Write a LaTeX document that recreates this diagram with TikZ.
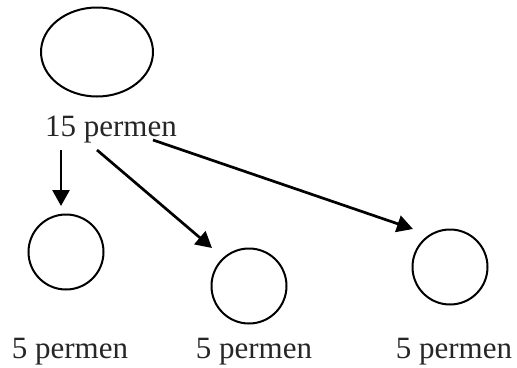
\documentclass[tikz,border=0pt]{standalone}
\usepackage{fontspec}
\setmainfont{Liberation Serif}
\usetikzlibrary{shapes.geometric,arrows.meta}
\begin{document}
\begin{tikzpicture}[x=1pt,y=-1pt,
  shapeline/.style={draw=black,line width=2pt,inner sep=0pt},
  bigcircle/.style={shapeline,circle,minimum size=75pt},
  lbl/.style={anchor=base,inner sep=0pt,font=\fontsize{31}{36}\selectfont,text=black!85},
  arr/.style={line width=2.7pt,-{Triangle[length=16pt,width=17pt]}}]
\useasboundingbox (0,0) rectangle (517,367);
\node[shapeline,ellipse,minimum width=112pt,minimum height=89pt] (top) at (97,52) {};
\node[lbl] (toplbl) at (111,136) {15 permen};
\node[bigcircle] (c1) at (66,252) {};
\node[bigcircle] (c2) at (249,286) {};
\node[bigcircle] (c3) at (450,267) {};
\node[lbl] (l1) at (70,358) {5 permen};
\node[lbl] (l2) at (254,358) {5 permen};
\node[lbl] (l3) at (454,358) {5 permen};
\coordinate (s1) at (61,150);
\coordinate (t1) at (61,206);
\coordinate (s2) at (97,150);
\coordinate (t2) at (212,248);
\coordinate (s3) at (153,140);
\coordinate (t3) at (413,229);
\draw[arr] (s1) -- (t1);
\draw[arr] (s2) -- (t2);
\draw[arr] (s3) -- (t3);
\end{tikzpicture}
\end{document}
